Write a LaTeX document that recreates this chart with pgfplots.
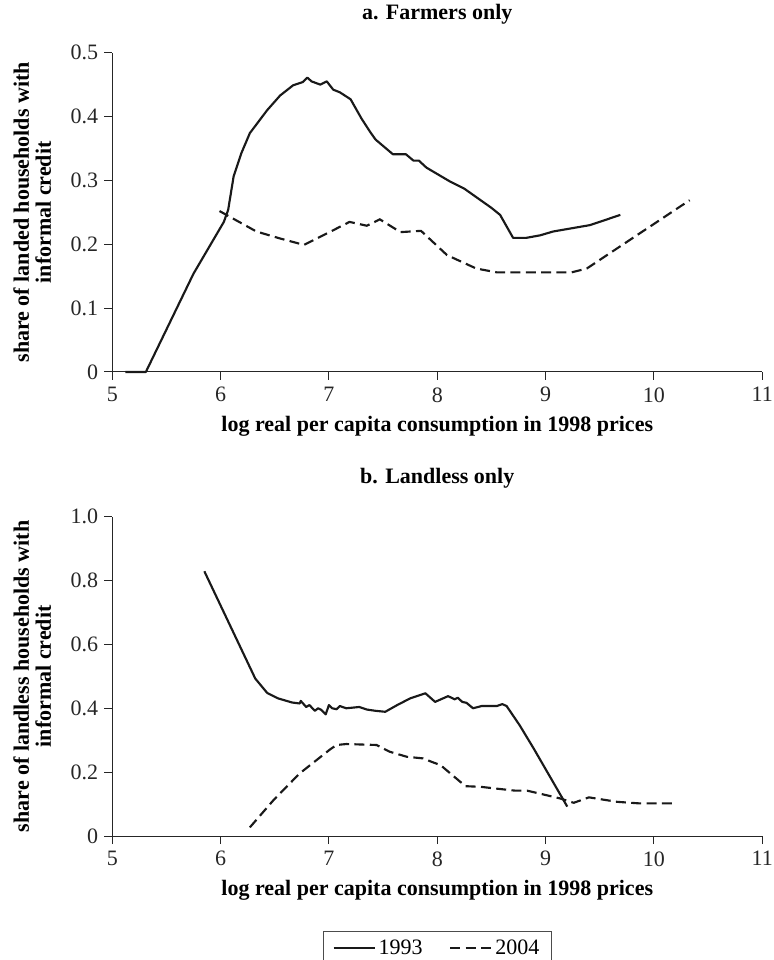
\documentclass[border=0pt]{standalone}
\usepackage{fontspec}
\setmainfont{Liberation Serif}
\usepackage{pgfplots}
\pgfplotsset{compat=1.18}
\pgfplotsset{
 panel/.style={
  scale only axis, width=487.5pt, height=239.5pt,
  axis x line=bottom, axis y line=left,
  axis line style={-, black!85, line width=0.75pt},
  tick style={black!85, line width=0.75pt},
  tick align=outside, major tick length=6pt,
  xmin=5, xmax=11, xtick={5,6,7,8,9,10,11},
  /pgf/number format/assume math mode=true,
  tick label style={font=\fontsize{16.5}{18}\selectfont, text=black!85},
  xticklabel style={yshift=-2pt},
  yticklabel style={xshift=-1pt},
  title style={font=\bfseries\fontsize{16.5}{18}\selectfont, at={(axis description cs:0.5,1)}, anchor=center, yshift=22.5pt},
  xlabel style={font=\bfseries\fontsize{16.5}{18}\selectfont, at={(axis description cs:0.5,0)}, anchor=center, yshift=-41pt},
  ylabel style={font=\bfseries\fontsize{16.5}{16.5}\selectfont, align=center, at={(axis description cs:-0.123,0.5)}, anchor=center},
  clip=false,
 },
 s93/.style={black!90, line width=1.6pt, line join=round},
 s04/.style={black!90, line width=1.6pt, dash pattern=on 7.5pt off 4pt},
}
\begin{document}
\begin{tikzpicture}
\path[use as bounding box] (0,0) rectangle (580.5pt,720pt);
\begin{axis}[panel, at={(84.2pt,441pt)}, anchor=south west,
  ymin=0, ymax=0.5, ytick={0,0.1,0.2,0.3,0.4,0.5}, yticklabels={0,0.1,0.2,0.3,0.4,0.5},
  title={a. Farmers only},
  xlabel={log real per capita consumption in 1998 prices},
  ylabel={share of landed households with\\informal credit}]
\addplot[s93] coordinates {
(5.12,0) (5.31,0) (5.75,0.154) (6.03,0.235) (6.07,0.254) (6.12,0.306) (6.19,0.342)
(6.27,0.374) (6.43,0.41) (6.55,0.433) (6.67,0.449) (6.76,0.454) (6.80,0.461) (6.84,0.455)
(6.92,0.45) (6.98,0.455) (7.04,0.442) (7.10,0.438) (7.20,0.427) (7.30,0.397) (7.38,0.376)
(7.43,0.364) (7.59,0.341) (7.71,0.341) (7.78,0.331) (7.83,0.331) (7.90,0.320) (8.12,0.298)
(8.25,0.287) (8.40,0.269) (8.50,0.257) (8.58,0.246) (8.70,0.210) (8.82,0.210) (8.95,0.214)
(9.07,0.220) (9.41,0.230) (9.69,0.246)};
\addplot[s04] coordinates {
(5.99,0.252) (6.33,0.220) (6.55,0.209) (6.77,0.199) (7.04,0.222) (7.19,0.235) (7.35,0.229)
(7.47,0.239) (7.66,0.219) (7.85,0.221) (8.09,0.183) (8.36,0.162) (8.55,0.156) (9.24,0.156)
(9.38,0.162) (10.33,0.269)};
\end{axis}
\begin{axis}[panel, at={(84.2pt,93pt)}, anchor=south west,
  ymin=0, ymax=1, ytick={0,0.2,0.4,0.6,0.8,1}, yticklabels={0,0.2,0.4,0.6,0.8,1.0},
  title={b. Landless only},
  xlabel={log real per capita consumption in 1998 prices},
  ylabel={share of landless households with\\informal credit},
  legend columns=2,
  legend style={at={(axis description cs:0.5,-0.35)}, anchor=center, draw=black!70, line width=0.75pt,
    font=\fontsize{16.5}{18}\selectfont, inner xsep=7pt, inner ysep=4pt,
    /tikz/every even column/.append style={column sep=18pt}},
  legend image code/.code={\draw[#1] (0pt,0pt) -- (31pt,0pt);}]
\addplot[s93] coordinates {
(5.85,0.829) (6.32,0.493) (6.43,0.448) (6.53,0.431) (6.66,0.418) (6.73,0.415) (6.74,0.423)
(6.79,0.404) (6.82,0.41) (6.87,0.392) (6.90,0.40) (6.93,0.395) (6.97,0.381) (7.00,0.41)
(7.03,0.40) (7.07,0.397) (7.10,0.407) (7.16,0.40) (7.28,0.404) (7.35,0.396) (7.43,0.392)
(7.52,0.389) (7.63,0.41) (7.75,0.431) (7.89,0.447) (7.98,0.42) (8.10,0.438) (8.16,0.428)
(8.19,0.433) (8.23,0.42) (8.27,0.417) (8.33,0.40) (8.41,0.407) (8.55,0.407) (8.60,0.413)
(8.64,0.407) (8.76,0.347) (8.89,0.274) (9.20,0.092)};
\addlegendentry{1993}
\addplot[s04] coordinates {
(6.27,0.027) (6.49,0.113) (6.73,0.196) (7.01,0.271) (7.07,0.285) (7.16,0.288) (7.44,0.285)
(7.56,0.264) (7.72,0.248) (7.87,0.243) (7.95,0.232) (8.03,0.222) (8.26,0.156) (8.40,0.154)
(8.61,0.146) (8.72,0.142) (8.83,0.142) (9.13,0.118) (9.26,0.104) (9.40,0.121) (9.66,0.107)
(9.87,0.102) (10.21,0.102)};
\addlegendentry{2004}
\end{axis}
\end{tikzpicture}
\end{document}
